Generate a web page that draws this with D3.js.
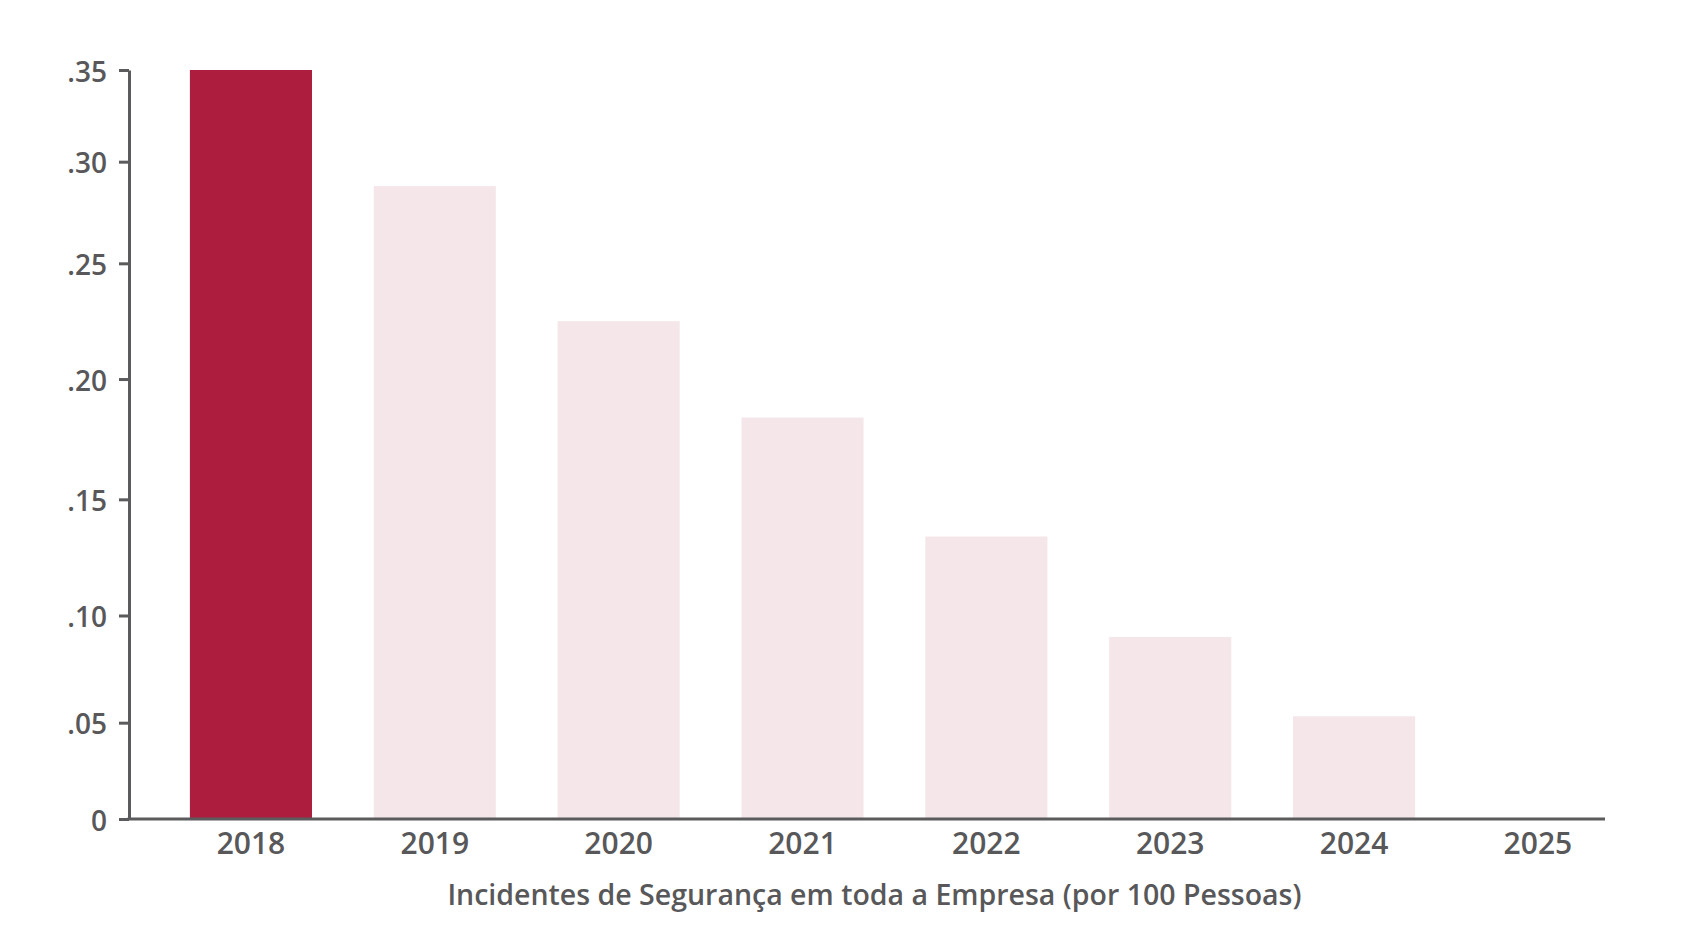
<!DOCTYPE html>
<html>
<head>
<meta charset="utf-8">
<script src="https://cdn.jsdelivr.net/npm/d3@7"></script>
<style>
  html, body { margin: 0; padding: 0; background: #ffffff; }
  svg { display: block; }
</style>
</head>
<body>
<svg id="chart" width="1702" height="926"></svg>
<script>
// ---------------- DATA ----------------
const years = ["2018", "2019", "2020", "2021", "2022", "2023", "2024", "2025"];
const incidents = [0.35, 0.288, 0.225, 0.184, 0.134, 0.09, 0.053, null];
const highlightYear = "2018";
const yTickValues = [0, 0.05, 0.10, 0.15, 0.20, 0.25, 0.30, 0.35];
const yTickLabels = ["0", ".05", ".10", ".15", ".20", ".25", ".30", ".35"];
const xTitle = "Incidentes de Segurança em toda a Empresa (por 100 Pessoas)";

// ---------------- LAYOUT ----------------
const W = 1702, H = 926;
const plot = { left: 129, right: 1605, top: 70, bottom: 819 };
// the reference spaces its y ticks unevenly; fraction of plot height for each tick
const yTickFrac = [0, 0.1286, 0.2717, 0.4268, 0.5874, 0.7419, 0.8776, 1];
const colors = { highlight: "#ad1d3e", bar: "#f5e6ea", axis: "#5b5b5d", text: "#58585a" };
const font = "'Open Sans', 'Noto Sans', sans-serif";

const svg = d3.select("#chart");

const x = d3.scaleBand()
  .domain(years)
  .range([plot.left, plot.right])
  .paddingInner(0.336)
  .paddingOuter(0.182)
  .align(0.91);

const plotH = plot.bottom - plot.top;
const y = d3.scaleLinear()
  .domain(yTickValues)
  .range(yTickFrac.map(f => plot.bottom - f * plotH));

const data = years.map((yr, i) => ({ year: yr, value: incidents[i] }));

// bars
svg.append("g")
  .selectAll("rect")
  .data(data.filter(d => d.value != null))
  .join("rect")
  .attr("x", d => x(d.year))
  .attr("width", x.bandwidth())
  .attr("y", d => y(d.value))
  .attr("height", d => y(0) - y(d.value))
  .attr("fill", d => d.year === highlightYear ? colors.highlight : colors.bar);

// y axis
const yAxis = svg.append("g")
  .attr("transform", `translate(${plot.left},0)`)
  .call(d3.axisLeft(y)
    .tickValues(yTickValues)
    .tickFormat((d, i) => yTickLabels[i])
    .tickSize(10)
    .tickSizeOuter(0)
    .tickPadding(12));
yAxis.select(".domain").attr("stroke", colors.axis).attr("stroke-width", 3);
yAxis.selectAll(".tick line").attr("stroke", colors.axis).attr("stroke-width", 3);
yAxis.selectAll(".tick text")
  .attr("fill", colors.text)
  .attr("dy", "0.4em")
  .style("font-family", font)
  .style("font-weight", 600)
  .style("font-size", "28px");

// x axis
const xAxis = svg.append("g")
  .attr("transform", `translate(0,${plot.bottom})`)
  .call(d3.axisBottom(x).tickSize(0).tickSizeOuter(0).tickPadding(14));
xAxis.select(".domain")
  .attr("d", `M${plot.left - 1.5},0H${plot.right}`)
  .attr("stroke", colors.axis).attr("stroke-width", 3);
xAxis.selectAll(".tick text")
  .attr("fill", colors.text)
  .style("font-family", font)
  .style("font-weight", 600)
  .style("font-size", "30px");

// x title
svg.append("text")
  .attr("x", (x(years[0]) + x(years[years.length - 1]) + x.bandwidth()) / 2 - 20)
  .attr("y", 905)
  .attr("text-anchor", "middle")
  .attr("fill", colors.text)
  .style("font-family", font)
  .style("font-weight", 600)
  .style("font-size", "28.5px")
  .text(xTitle);
</script>
</body>
</html>
